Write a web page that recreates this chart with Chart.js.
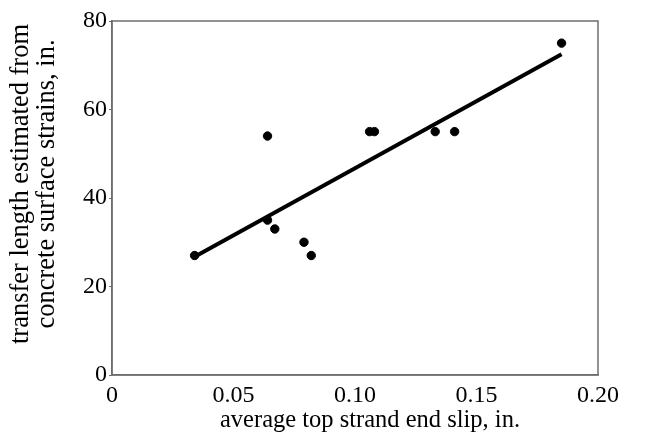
<!DOCTYPE html>
<html>
<head>
<meta charset="utf-8">
<script src="https://cdn.jsdelivr.net/npm/chart.js@4/dist/chart.umd.min.js"></script>
<style>
  html, body { margin: 0; padding: 0; background: #fff; }
  #wrap { width: 654px; height: 439px; }
</style>
</head>
<body>
<div id="wrap"><canvas id="c" width="654" height="439"></canvas></div>
<script>
// Data
const slipX = [0.034, 0.064, 0.064, 0.067, 0.079, 0.082, 0.106, 0.108, 0.133, 0.141, 0.185];
const transferY = [27, 54, 35, 33, 30, 27, 55, 55, 55, 55, 75];
const trendX = [0.034, 0.185];
const trendY = [26.7, 72.5];
const xTicks = [0, 0.05, 0.10, 0.15, 0.20];
const yTicks = [0, 20, 40, 60, 80];
const xTitle = 'average top strand end slip, in.';
const yTitle = ['transfer length estimated from', 'concrete surface strains, in.'];

const FONT = "'Liberation Serif', 'Times New Roman', serif";

const boxPlugin = {
  id: 'box',
  afterLayout(chart) {
    // nudge axis titles to match reference placement
    const shifts = { x: [15, 0], y: [0, -14] };
    Object.keys(shifts).forEach(k => {
      const s = chart.scales[k];
      if (s && !s._titleShifted) {
        const orig = s.drawTitle.bind(s);
        const [dx, dy] = shifts[k];
        s.drawTitle = function () {
          const ctx = this.ctx;
          ctx.save();
          ctx.translate(dx, dy);
          orig();
          ctx.restore();
        };
        s._titleShifted = true;
      }
    });
  },
  afterDraw(chart) {
    const a = chart.chartArea, ctx = chart.ctx;
    ctx.save();
    ctx.strokeStyle = '#6e6e6e';
    ctx.lineWidth = 1.5;
    ctx.strokeRect(a.left, a.top, a.right - a.left, a.bottom - a.top);
    ctx.restore();
  }
};

new Chart(document.getElementById('c'), {
  type: 'scatter',
  data: {
    datasets: [
      {
        label: 'data',
        data: slipX.map((x, i) => ({ x: x, y: transferY[i] })),
        backgroundColor: '#000',
        borderColor: '#000',
        pointRadius: 4.2,
        pointHoverRadius: 4.2
      },
      {
        label: 'trend',
        data: trendX.map((x, i) => ({ x: x, y: trendY[i] })),
        showLine: true,
        borderColor: '#000',
        borderWidth: 4,
        pointRadius: 0,
        fill: false
      }
    ]
  },
  plugins: [boxPlugin],
  options: {
    responsive: false,
    animation: false,
    layout: { padding: { left: 0, right: 56, top: 21, bottom: 0 } },
    plugins: { legend: { display: false }, tooltip: { enabled: false } },
    scales: {
      x: {
        type: 'linear',
        min: 0, max: 0.2,
        afterBuildTicks(s) { s.ticks = xTicks.map(v => ({ value: v })); },
        afterFit(s) { s.height = 64; },
        grid: { display: true, drawOnChartArea: false, drawTicks: false, color: '#6e6e6e' },
        border: { display: true, color: '#6e6e6e', width: 1.5 },
        ticks: {
          color: '#000',
          padding: 6,
          maxRotation: 0,
          font: { family: FONT, size: 24 },
          callback: (v) => v === 0 ? '0' : v.toFixed(2)
        },
        title: {
          display: true,
          text: xTitle,
          color: '#000',
          font: { family: FONT, size: 24.5 },
          padding: { top: 0, bottom: 4 }
        }
      },
      y: {
        type: 'linear',
        min: 0, max: 80,
        afterBuildTicks(s) { s.ticks = yTicks.map(v => ({ value: v })); },
        afterFit(s) { s.width = 112; },
        grid: { display: true, drawOnChartArea: false, drawTicks: true, tickLength: 3, color: '#6e6e6e' },
        border: { display: true, color: '#6e6e6e', width: 1.5 },
        ticks: {
          color: '#000',
          padding: 2,
          font: { family: FONT, size: 24 }
        },
        title: {
          display: true,
          text: yTitle,
          color: '#000',
          font: { family: FONT, size: 26.5, lineHeight: 0.98 },
          padding: { top: 8, bottom: 0 }
        }
      }
    }
  }
});
</script>
</body>
</html>
